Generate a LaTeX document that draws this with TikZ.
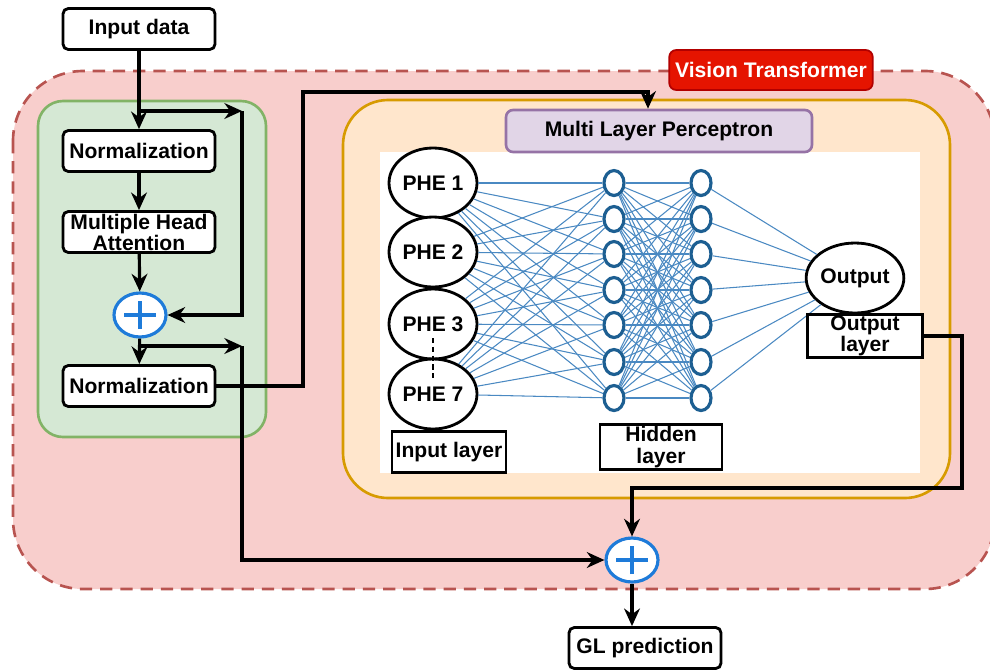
\documentclass[tikz,border=0pt]{standalone}
\usepackage{fontspec}
\setmainfont{Liberation Sans}
\usepackage{tikz}
\usetikzlibrary{arrows.meta,shapes.geometric}

\definecolor{vitfill}{HTML}{F8CECC}
\definecolor{vitdraw}{HTML}{B85450}
\definecolor{encfill}{HTML}{D5E8D4}
\definecolor{encdraw}{HTML}{82B366}
\definecolor{mlpfill}{HTML}{FFE6CC}
\definecolor{mlpdraw}{HTML}{D79B00}
\definecolor{lblfill}{HTML}{E1D5E7}
\definecolor{lbldraw}{HTML}{9673A6}
\definecolor{vtred}{HTML}{E51400}
\definecolor{vtdark}{HTML}{B20000}
\definecolor{plusblue}{HTML}{1E7BD9}
\definecolor{neuron}{HTML}{1D5F92}
\definecolor{wirecol}{HTML}{4A89C2}

\newcommand{\dfont}{\bfseries\fontsize{12}{12}\selectfont}

\tikzset{
  blk/.style={draw=black, line width=1.6pt, rounded corners=3pt, fill=white, minimum width=3.04cm, minimum height=0.82cm, inner sep=1pt, align=center, font=\dfont},
  lay/.style={draw=black, line width=1.6pt, fill=white, minimum height=0.82cm, inner sep=1pt, align=center, font=\dfont},
  phe/.style={shape=ellipse, draw=black, line width=1.6pt, fill=white, minimum width=1.76cm, minimum height=1.4cm, inner sep=0pt, font=\dfont},
  unit/.style={shape=ellipse, draw=neuron, line width=1.8pt, fill=white, minimum width=0.4cm, minimum height=0.5cm, inner sep=0pt},
  adder/.style={shape=ellipse, draw=plusblue, line width=1.8pt, fill=white, minimum width=1.04cm, minimum height=0.88cm,
    path picture={\draw[plusblue, line width=2pt]
      ([xshift=-9pt]path picture bounding box.center) -- ([xshift=9pt]path picture bounding box.center)
      ([yshift=-8pt]path picture bounding box.center) -- ([yshift=8pt]path picture bounding box.center);}},
  link/.style={-{Stealth[length=10pt,width=9pt]}, line width=1.8pt},
  syn/.style={draw=wirecol, line width=0.6pt}
}

\begin{document}
\begin{tikzpicture}[x=0.02cm, y=-0.02cm]
    \useasboundingbox (0,0) rectangle (990,670);

    % containers
    \draw[vitdraw, fill=vitfill, line width=1.5pt, dash pattern=on 7pt off 4.5pt, rounded corners=1.4cm] (13,71) rectangle (995,589);
    \draw[encdraw, fill=encfill, line width=1.5pt, rounded corners=0.5cm] (38,101) rectangle (266,437);
    \draw[mlpdraw, fill=mlpfill, line width=1.5pt, rounded corners=0.9cm] (343,100) rectangle (950,498);
    \fill[white] (380,152) rectangle (920,473);

    \node[draw=vtdark, fill=vtred, text=white, line width=1pt, rounded corners=4pt, minimum width=4.06cm, minimum height=0.8cm, font=\dfont] (vit) at (771,70) {Vision Transformer};
    \node[draw=lbldraw, fill=lblfill, line width=1.5pt, rounded corners=4pt, minimum width=6.12cm, minimum height=0.84cm, font=\dfont] (mlp) at (659,131) {Multi Layer Perceptron};

    % encoder
    \node[blk] (inp) at (139,29) {Input data};
    \node[blk] (norm1) at (139,151) {Normalization};
    \node[blk] (mha) at (139,232) {Multiple Head\\Attention};
    \node[adder] (add1) at (140,315) {};
    \node[blk] (norm2) at (139,386) {Normalization};
    \node[adder] (add2) at (632,560) {};
    \node[blk] (gl) at (645,648) {GL prediction};

    % network
    \foreach \i/\y/\t in {1/183/PHE 1, 2/252/PHE 2, 3/324/PHE 3, 4/394/PHE 7}
        \node[phe] (in\i) at (433,\y) {\t};
    \foreach \j/\y in {1/183, 2/219, 3/254, 4/290, 5/325, 6/362, 7/398} {
        \node[unit] (ha\j) at (614,\y) {};
        \node[unit] (hb\j) at (701,\y) {};
    }
    \node[phe] (out) at (855,278) {Output};

    \foreach \i in {1,...,4}
        \foreach \j in {1,...,7}
            \draw[syn] (in\i) -- (ha\j);
    \foreach \i in {1,...,7}
        \foreach \j in {1,...,7}
            \draw[syn] (ha\i) -- (hb\j);
    \foreach \j in {1,...,7}
        \draw[syn] (hb\j) -- (out);

    \draw[line width=1.3pt, dash pattern=on 3pt off 2pt] ([yshift=-8pt]in3.center) -- ([yshift=9pt]in4.center);

    \node[lay, minimum width=2.28cm] (inlay) at (449,452) {Input layer};
    \node[lay, minimum width=2.44cm] (hidlay) at (661,447) {Hidden\\layer};
    \node[lay, minimum width=2.3cm] (outlay) at (865,336) {Output\\layer};

    % connectors
    \coordinate (s1) at (139,111);
    \coordinate (r1) at (242,111);
    \coordinate (s2) at (139,346);
    \coordinate (r2) at (242,346);
    \coordinate (t1) at (303,92);
    \coordinate (t2) at (962,488);

    \path[link] (inp) edge (norm1)
                (norm1) edge (mha)
                (mha) edge (add1)
                (add1) edge (norm2)
                (add2) edge (add2 |- gl.north);
    \draw[link] (s1) -- (r1);
    \draw[link] (r1) |- (add1);
    \draw[link] (s2) -- (r2);
    \draw[link] (r2) |- (add2);
    \draw[link] (norm2) -| (t1) -| ([xshift=-0.22cm]mlp.north);
    \draw[link] (outlay) -| (t2) -| (add2);
\end{tikzpicture}
\end{document}
